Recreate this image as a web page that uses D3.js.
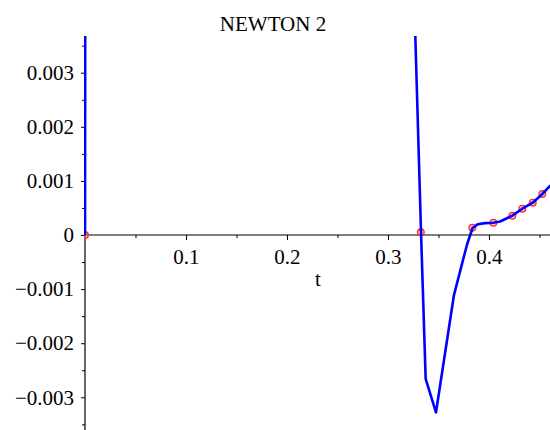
<!DOCTYPE html>
<html>
<head>
    <meta charset="utf-8" />
    <title>NEWTON 2</title>
    <script type="text/javascript" src="https://cdn.jsdelivr.net/npm/d3@7"></script>
    <style>
        body { margin: 0; background: #fff; }
        text { font-family: "Liberation Serif", "Times New Roman", serif; }
    </style>
</head>
<body>
    <script type="text/javascript">

        //Width and height
        var w = 550;
        var h = 430;

        // curve (t, value); first/last jumps go off the plot
        var curveT = [0, 0.0005, 0.3172, 0.3327, 0.3373, 0.3475, 0.3653, 0.3743, 0.3782, 0.3837,
                      0.3891, 0.396, 0.4043, 0.411, 0.4168, 0.4231, 0.433, 0.4433, 0.4528, 0.4604, 0.47];
        var curveV = [0, 0.01, 0.01, 0.00005, -0.00266, -0.00328, -0.00111, -0.00046, -0.00018, 0.00013,
                      0.0002, 0.00022, 0.000227, 0.00025, 0.0003, 0.000357, 0.000486, 0.000597, 0.000758, 0.000906, 0.00107];

        // red circle markers
        var markT = [0, 0.3325, 0.3835, 0.4043, 0.4231, 0.433, 0.4433, 0.4528];
        var markV = [0, 0.00005, 0.000135, 0.000227, 0.000357, 0.000486, 0.000597, 0.000758];

        var xMajor = [0.1, 0.2, 0.3, 0.4];
        var xMinor = [0.05, 0.15, 0.25, 0.35, 0.45];
        var yMajor = [-0.003, -0.002, -0.001, 0, 0.001, 0.002, 0.003];
        var yMinor = [-0.0035, -0.0025, -0.0015, -0.0005, 0.0005, 0.0015, 0.0025, 0.0035];

        var xScale = d3.scaleLinear()
            .domain([0, 0.4604])
            .range([85, 550]);

        var yScale = d3.scaleLinear()
            .domain([-0.003, 0.003])
            .range([397.3, 72.7]);

        var fmt = function (d) {
            return d === 0 ? "0" : d3.format(".3f")(d);
        };

        //Create SVG element
        var svg = d3.select("body")
                    .append("svg")
                    .attr("width", w)
                    .attr("height", h);

        svg.append("clipPath")
            .attr("id", "plotclip")
            .append("rect")
            .attr("x", 84)
            .attr("y", 36)
            .attr("width", w - 84)
            .attr("height", h - 36);

        // x axis through zero
        var y0 = yScale(0);
        var xAxisG = svg.append("g").attr("transform", "translate(0," + y0 + ")");
        xAxisG.append("g")
            .call(d3.axisBottom(xScale).tickValues(xMinor).tickSize(3).tickFormat(""));
        xAxisG.append("g")
            .call(d3.axisBottom(xScale).tickValues(xMajor).tickSize(5).tickSizeOuter(0).tickPadding(9).tickFormat(d3.format(".1f")));

        // y axis at t = 0
        var x0 = xScale(0);
        var yAxisG = svg.append("g").attr("transform", "translate(" + x0 + ",0)");
        yAxisG.append("g")
            .call(d3.axisLeft(yScale).tickValues(yMinor).tickSize(3).tickFormat(""));
        yAxisG.append("g")
            .call(d3.axisLeft(yScale).tickValues(yMajor).tickSize(4).tickSizeOuter(0).tickPadding(7).tickFormat(fmt));

        svg.selectAll(".domain").remove();
        svg.selectAll(".tick line").attr("stroke", "#000");
        svg.selectAll(".tick text")
            .attr("font-family", "'Liberation Serif', 'Times New Roman', serif")
            .attr("font-size", "21px")
            .attr("fill", "#000");

        svg.append("line")
            .attr("x1", x0).attr("x2", w)
            .attr("y1", y0).attr("y2", y0)
            .attr("stroke", "#000").attr("stroke-width", 1.2);
        svg.append("line")
            .attr("x1", x0).attr("x2", x0)
            .attr("y1", 36).attr("y2", h)
            .attr("stroke", "#000").attr("stroke-width", 1.2);

        // markers under the curve
        var marks = d3.range(markT.length).map(function (i) { return { t: markT[i], v: markV[i] }; });
        svg.append("g")
            .attr("clip-path", "url(#plotclip)")
            .selectAll("circle")
            .data(marks)
            .enter()
            .append("circle")
            .attr("cx", function (d) { return xScale(d.t); })
            .attr("cy", function (d) { return yScale(d.v); })
            .attr("r", 3.3)
            .attr("fill", "rgba(255,110,110,0.45)")
            .attr("stroke", "#ff3030")
            .attr("stroke-width", 1.4);

        //Blue curve
        var pts = d3.range(curveT.length).map(function (i) { return { t: curveT[i], v: curveV[i] }; });
        svg.append("path")
            .datum(pts)
            .attr("clip-path", "url(#plotclip)")
            .attr("d", d3.line()
                .x(function (d) { return xScale(d.t); })
                .y(function (d) { return yScale(d.v); }))
            .attr("fill", "none")
            .attr("stroke", "#0000ff")
            .attr("stroke-width", 2.6)
            .attr("stroke-linejoin", "round");

        //Title and axis label
        svg.append("text")
            .attr("x", 273)
            .attr("y", 31)
            .attr("text-anchor", "middle")
            .attr("font-size", "21px")
            .attr("fill", "#000")
            .text("NEWTON 2");

        svg.append("text")
            .attr("x", 318)
            .attr("y", 286)
            .attr("text-anchor", "middle")
            .attr("font-size", "21px")
            .attr("fill", "#000")
            .text("t");

    </script>
</body>
</html>
